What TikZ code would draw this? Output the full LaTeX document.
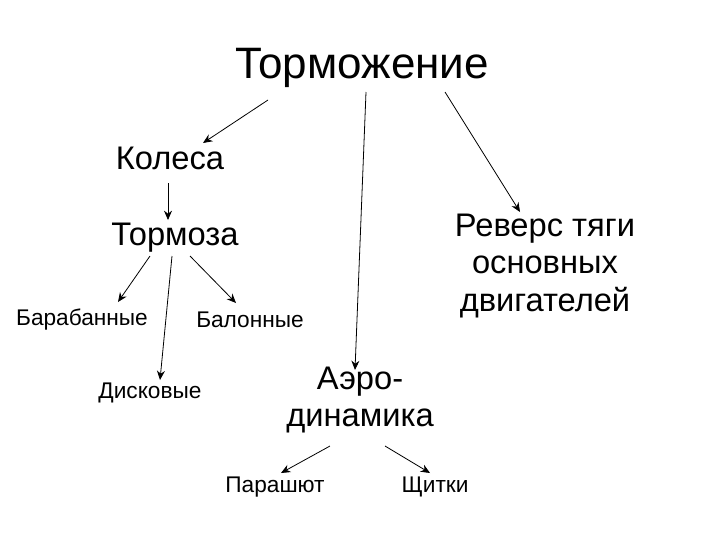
\documentclass[tikz,border=0pt]{standalone}
\usepackage{fontspec}
\setmainfont{Liberation Sans}
\usetikzlibrary{arrows.meta}
\begin{document}
\begin{tikzpicture}[x=0.75pt,y=-0.75pt,
  big/.style={font=\fontsize{33}{36}\selectfont,inner sep=0pt},
  mid/.style={font=\fontsize{24.5}{28}\selectfont,inner sep=0pt,align=center},
  sm/.style={font=\fontsize{17}{19}\selectfont,inner sep=0pt},
  arr/.style={-{Stealth[length=7pt,width=6pt]},line width=0.6pt}]
\fill[white] (0,0) rectangle (720,540);
\useasboundingbox (0,0) rectangle (720,540);
\node[big] (t) at (362,68) {Торможение};
\node[mid] (k) at (170,158) {Колеса};
\node[mid] (tb) at (175,238) {Тормоза};
\node[mid] (r) at (545,266) {Реверс тяги\\основных\\двигателей};
\node[sm] (b1) at (82,320) {Барабанные};
\node[sm] (b2) at (250,320) {Балонные};
\node[sm] (d) at (150,393) {Дисковые};
\node[mid] (a) at (360,400) {Аэро-\\динамика};
\node[sm] (p) at (275,487) {Парашют};
\node[sm] (s) at (435,487) {Щитки};
\coordinate (t1) at (268,100); \coordinate (k1) at (203,143);
\coordinate (t2) at (366,92); \coordinate (a1) at (355,370);
\coordinate (t3) at (445,92); \coordinate (r1) at (520,212);
\coordinate (k2) at (168,183); \coordinate (tb1) at (168,220);
\coordinate (tb2) at (150,256); \coordinate (b11) at (118,302);
\coordinate (tb3) at (172,256); \coordinate (d1) at (160,380);
\coordinate (tb4) at (190,256); \coordinate (b21) at (236,303);
\coordinate (a2) at (330,446); \coordinate (p1) at (281,473);
\coordinate (a3) at (385,446); \coordinate (s1) at (430,473);
\draw[arr] (t1) -- (k1);
\draw[arr] (t2) -- (a1);
\draw[arr] (t3) -- (r1);
\draw[arr] (k2) -- (tb1);
\draw[arr] (tb2) -- (b11);
\draw[arr] (tb3) -- (d1);
\draw[arr] (tb4) -- (b21);
\draw[arr] (a2) -- (p1);
\draw[arr] (a3) -- (s1);
\end{tikzpicture}
\end{document}
